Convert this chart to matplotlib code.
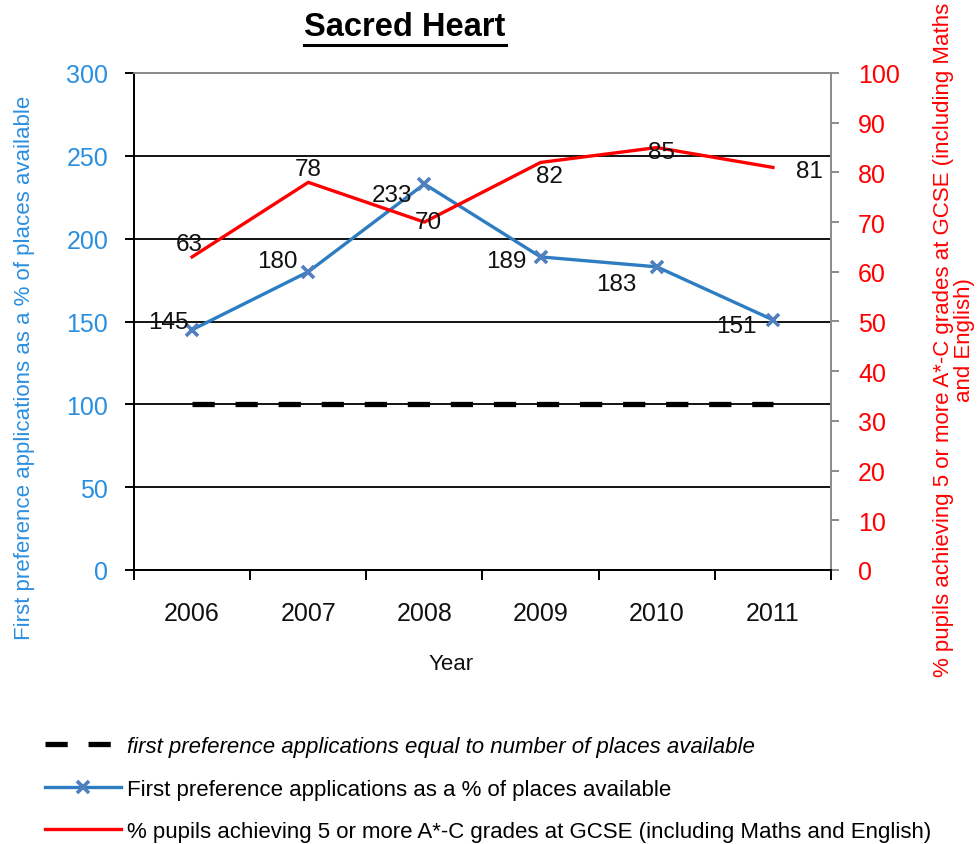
import numpy as np
import matplotlib
matplotlib.use("Agg")
import matplotlib.pyplot as plt
from matplotlib.lines import Line2D
from matplotlib.transforms import IdentityTransform

# ---------------- data ----------------
years = ["2006", "2007", "2008", "2009", "2010", "2011"]
applications_pct = [145, 180, 233, 189, 183, 151]
gcse_pct = [63, 78, 70, 82, 85, 81]
parity_level = [100, 100, 100, 100, 100, 100]
left_ticks = [0, 50, 100, 150, 200, 250, 300]
right_ticks = [0, 10, 20, 30, 40, 50, 60, 70, 80, 90, 100]

title = "Sacred Heart"
left_label = "First preference applications as a % of places available"
right_label = "% pupils achieving 5 or more A*-C grades at GCSE (including Maths\nand English)"
x_label = "Year"
legend_labels = [
    "first preference applications equal to number of places available",
    "First preference applications as a % of places available",
    "% pupils achieving 5 or more A*-C grades at GCSE (including Maths and English)",
]

# label offsets (pixels) - styling only
blue_offsets = [(-24, 8), (-31, 11), (-32, -11), (-34, -4), (-40, -17), (-37, -6)]
red_offsets = [(-3, 13), (0, 13), (4, 0), (9, -14), (5, -4), (37, -4)]

# ---------------- style ----------------
plt.rcParams["font.family"] = ["Liberation Sans", "DejaVu Sans"]
plt.rcParams["lines.scale_dashes"] = False

BLUE_LINE = "#2E7DC2"
BLUE_MARK = "#4F7FBF"
BLUE_TXT = "#2B8FE0"
RED = "#FF0000"
GREY = "#8C8C8C"

W, H = 978, 845
fig = plt.figure(figsize=(W / 100, H / 100), dpi=100)
L, R, T, B = 134, 831, 74, 571
ax = fig.add_axes([L / W, 1 - B / H, (R - L) / W, (B - T) / H])
ax2 = ax.twinx()

x = np.arange(len(years))

# lines
dash_line, = ax.plot(x, parity_level, color="black", lw=3.8, dashes=(16, 15),
                     dash_capstyle="butt", zorder=3,
                     label=legend_labels[0])
blue_line, = ax.plot(x, applications_pct, color=BLUE_LINE, lw=2.4, marker="x",
                     markersize=9, markeredgewidth=2.6, markeredgecolor=BLUE_MARK,
                     zorder=4, label=legend_labels[1])
red_line, = ax2.plot(x, gcse_pct, color=RED, lw=2.4, zorder=4,
                     label=legend_labels[2])

# data labels
for i, v in enumerate(applications_pct):
    ax.annotate(str(v), (x[i], v), xytext=blue_offsets[i], textcoords="offset pixels",
                ha="center", va="center", fontsize=17.5, color="#111111", zorder=6)
for i, v in enumerate(gcse_pct):
    ax2.annotate(str(v), (x[i], v), xytext=red_offsets[i], textcoords="offset pixels",
                 ha="center", va="center", fontsize=17.5, color="#111111", zorder=6)

# axes limits / ticks
ax.set_xlim(-0.5, len(years) - 0.5)
ax.set_ylim(left_ticks[0], left_ticks[-1])
ax2.set_ylim(right_ticks[0], right_ticks[-1])

ax.set_xticks(np.arange(-0.5, len(years), 1.0))
ax.set_xticklabels([])
ax.set_xticks(x, minor=True)
ax.set_xticklabels(years, minor=True)
ax.tick_params(axis="x", which="major", direction="out", length=7, width=1.4, color="black")
ax.tick_params(axis="x", which="minor", length=0, pad=22, labelsize=18, labelcolor="#111111")

ax.set_yticks(left_ticks)
ax.tick_params(axis="y", direction="out", length=6.5, width=1.4, color="black",
               pad=12, labelsize=18, labelcolor=BLUE_TXT)
ax2.set_yticks(right_ticks)
ax2.tick_params(axis="y", direction="out", length=6, width=1.4, color=GREY,
                pad=13.5, labelsize=18, labelcolor=RED)

ax.yaxis.grid(True, color="black", lw=1.3)
ax.set_axisbelow(True)

for a in (ax, ax2):
    a.spines["top"].set_color(GREY)
    a.spines["top"].set_linewidth(1.3)
    a.spines["right"].set_color(GREY)
    a.spines["right"].set_linewidth(1.3)
    a.spines["left"].set_color("black")
    a.spines["left"].set_linewidth(1.4)
    a.spines["bottom"].set_color("black")
    a.spines["bottom"].set_linewidth(1.4)

# titles / axis labels
t = fig.text(405 / W, 1 - 27 / H, title, ha="center", va="center",
             fontsize=23.5, fontweight="bold", color="black")
fig.text(25 / W, 1 - 368 / H, left_label, rotation=90, ha="center", va="center",
         fontsize=16, color=BLUE_TXT)
fig.text(954 / W, 1 - 340 / H, right_label, rotation=90, ha="center", va="center",
         multialignment="center", linespacing=1.0, fontsize=16, color=RED)
fig.text(451 / W, 1 - 665 / H, x_label, ha="center", va="center", fontsize=16,
         color="#111111")

# legend
leg = fig.legend(handles=[dash_line, blue_line, red_line], labels=legend_labels,
                 loc="upper left", bbox_to_anchor=(45 / W, 1 - 737 / H),
                 frameon=False, fontsize=16, handlelength=3.42, handletextpad=0.27,
                 labelspacing=0.97, borderpad=0, borderaxespad=0, numpoints=1)
leg.get_texts()[0].set_fontstyle("italic")

# underline the title
fig.canvas.draw()
bb = t.get_window_extent()
fig.add_artist(Line2D([bb.x0, bb.x1], [bb.y0 - 3, bb.y0 - 3], transform=IdentityTransform(),
                      color="black", lw=2.2))

fig.savefig("out.png", dpi=100)
